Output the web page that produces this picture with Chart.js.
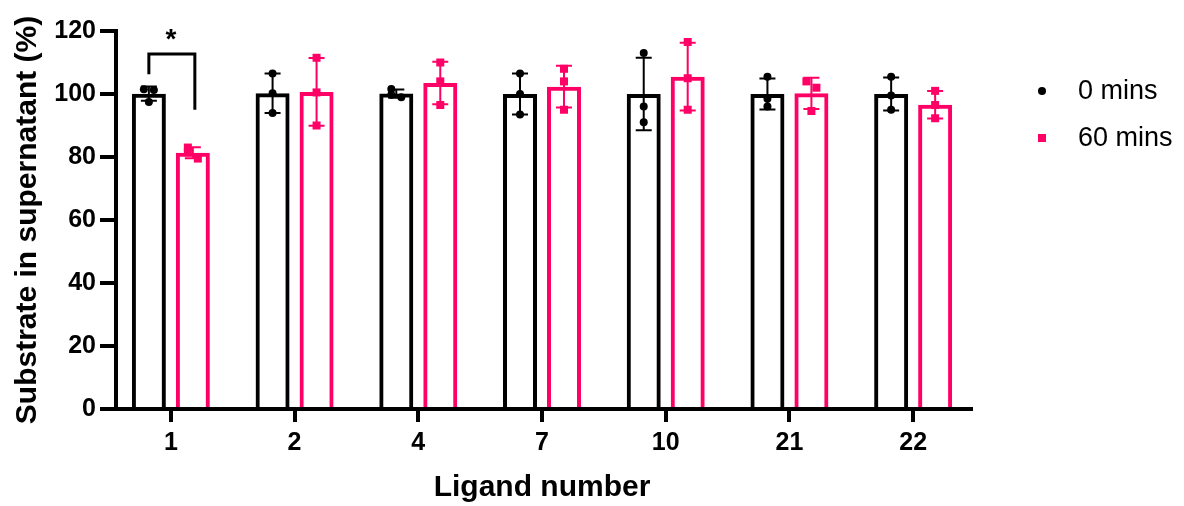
<!DOCTYPE html>
<html>
<head>
<meta charset="utf-8">
<script src="https://cdn.jsdelivr.net/npm/chart.js@4.4.1/dist/chart.umd.min.js"></script>
<style>
html,body{margin:0;padding:0;background:#fff;}
#wrap{width:1184px;height:506px;position:relative;}
</style>
</head>
<body>
<div id="wrap"><canvas id="c" width="1184" height="506"></canvas></div>
<script>
// ---- data ----
const categories = ['1', '2', '4', '7', '10', '21', '22'];
const seriesNames = ['0 mins', '60 mins'];
const yTicks = [0, 20, 40, 60, 80, 100, 120];
const reps0 = [[101.5, 101.3, 97.5], [106.5, 100.2, 94.0], [101.6, 99.8, 99.0], [106.5, 100.0, 93.5], [113.0, 96.0, 91.0], [105.5, 98.5, 96.0], [105.5, 99.5, 95.0]];
const reps60 = [[83.0, 81.5, 79.5], [111.5, 100.5, 90.0], [110.0, 104.0, 96.5], [108.0, 104.0, 95.0], [116.5, 105.0, 95.0], [104.0, 102.0, 94.6], [101.0, 96.5, 92.3]];
const significance = {category: 0, label: '*', top: 112.7, leftEnd: 106.3, rightEnd: 95.0};

const BLACK = '#000000';
const PINK = '#ff0066';
const FONT = "'Liberation Sans', Arial, sans-serif";

const mean = a => a.reduce((s, v) => s + v, 0) / a.length;
const sd = a => { const m = mean(a); return Math.sqrt(a.reduce((s, v) => s + (v - m) * (v - m), 0) / (a.length - 1)); };
const means0 = reps0.map(mean), means60 = reps60.map(mean);
const sd0 = reps0.map(sd), sd60 = reps60.map(sd);

const series = [
  {reps: reps0, means: means0, sds: sd0, color: BLACK, shape: 'circle'},
  {reps: reps60, means: means60, sds: sd60, color: PINK, shape: 'square'}
];

const marksPlugin = {
  id: 'prismMarks',
  afterDatasetsDraw(chart) {
    const ctx = chart.ctx, y = chart.scales.y;
    series.forEach((s, di) => {
      const meta = chart.getDatasetMeta(di);
      meta.data.forEach((bar, i) => {
        const x = bar.x;
        const yt = y.getPixelForValue(s.means[i] + s.sds[i]);
        const yb = y.getPixelForValue(s.means[i] - s.sds[i]);
        ctx.save();
        ctx.strokeStyle = s.color; ctx.lineWidth = 2;
        ctx.beginPath();
        ctx.moveTo(x, yt); ctx.lineTo(x, yb);
        ctx.moveTo(x - 8, yt); ctx.lineTo(x + 8, yt);
        ctx.moveTo(x - 8, yb); ctx.lineTo(x + 8, yb);
        ctx.stroke();
        // replicate points
        ctx.fillStyle = s.color;
        const vals = s.reps[i];
        vals.forEach((v, j) => {
          let jit = 0;
          vals.forEach((w, k) => { if (k !== j && Math.abs(w - v) < 2.5) jit = (j < k ? -5 : 5); });
          const px = x + jit, py = y.getPixelForValue(v);
          if (s.shape === 'circle') { ctx.beginPath(); ctx.arc(px, py, 4, 0, Math.PI * 2); ctx.fill(); }
          else { ctx.fillRect(px - 4, py - 4, 8, 8); }
        });
        ctx.restore();
      });
    });
  },
  afterDraw(chart) {
    const ctx = chart.ctx, y = chart.scales.y, a = chart.chartArea;
    const ax = a.left + 7;
    const y0 = y.getPixelForValue(0);
    ctx.save();
    ctx.strokeStyle = BLACK; ctx.lineWidth = 4; ctx.lineCap = 'butt';
    ctx.beginPath();
    ctx.moveTo(ax, y.getPixelForValue(120) - 2); ctx.lineTo(ax, y0 + 2);
    yTicks.forEach(t => { const py = y.getPixelForValue(t); ctx.moveTo(ax - 16, py); ctx.lineTo(ax, py); });
    ctx.moveTo(ax - 16, y0); ctx.lineTo(a.right - 2, y0);
    ctx.stroke();
    // significance bracket
    const b0 = chart.getDatasetMeta(0).data[significance.category];
    const b1 = chart.getDatasetMeta(1).data[significance.category];
    const yt = y.getPixelForValue(significance.top);
    ctx.lineWidth = 3;
    ctx.beginPath();
    ctx.moveTo(b0.x, y.getPixelForValue(significance.leftEnd));
    ctx.lineTo(b0.x, yt);
    ctx.lineTo(b1.x + 2, yt);
    ctx.lineTo(b1.x + 2, y.getPixelForValue(significance.rightEnd));
    ctx.stroke();
    ctx.fillStyle = BLACK;
    ctx.font = 'bold 28px ' + FONT;
    ctx.textAlign = 'center'; ctx.textBaseline = 'middle';
    ctx.fillText(significance.label, (b0.x + b1.x) / 2, yt - 14);
    // legend
    ctx.font = '27px ' + FONT;
    ctx.textAlign = 'left';
    const lx = 1042, ly = [91, 138];
    ctx.beginPath(); ctx.arc(lx, ly[0], 4, 0, Math.PI * 2); ctx.fill();
    ctx.fillText(seriesNames[0], 1078, ly[0] + 1);
    ctx.fillStyle = PINK;
    ctx.fillRect(lx - 4, ly[1] - 4, 8, 8);
    ctx.fillStyle = BLACK;
    ctx.fillText(seriesNames[1], 1078, ly[1] + 1);
    ctx.restore();
  }
};

new Chart(document.getElementById('c'), {
  type: 'bar',
  data: {
    labels: categories,
    datasets: series.map((s, i) => ({
      label: seriesNames[i], data: s.means,
      backgroundColor: 'rgba(255,255,255,0)', borderColor: s.color, borderWidth: 4,
      categoryPercentage: 0.711, barPercentage: 0.773
    }))
  },
  options: {
    responsive: false,
    animation: false,
    devicePixelRatio: 1,
    layout: {padding: {top: 31, right: 209, left: 0, bottom: 0}},
    plugins: {legend: {display: false}, tooltip: {enabled: false}},
    scales: {
      x: {
        type: 'category',
        offset: true,
        grid: {display: true, drawOnChartArea: false, drawTicks: true, tickLength: 13, lineWidth: 4, color: BLACK, offset: false},
        border: {display: false},
        ticks: {color: BLACK, font: {family: FONT, size: 25, weight: 'bold'}, padding: 6, maxRotation: 0},
        title: {display: true, text: 'Ligand number', color: BLACK, font: {family: FONT, size: 30, weight: 'bold'}, padding: {top: 10, bottom: 0}},
        afterFit(s) { s.height = 97; }
      },
      y: {
        type: 'linear',
        min: 0, max: 120,
        afterBuildTicks(s) { s.ticks = yTicks.map(v => ({value: v})); },
        grid: {display: false},
        border: {display: false},
        ticks: {color: BLACK, font: {family: FONT, size: 25, weight: 'bold'}, padding: 5},
        title: {display: true, text: 'Substrate in supernatant (%)', color: BLACK, font: {family: FONT, size: 30, weight: 'bold'}, padding: {top: 10, bottom: 0}},
        afterFit(s) { s.width = 109; }
      }
    }
  },
  plugins: [marksPlugin]
});
</script>
</body>
</html>
